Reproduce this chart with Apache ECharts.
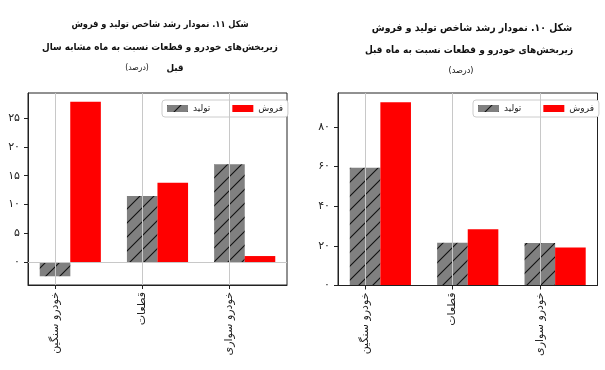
<!DOCTYPE html>
<html>
<head>
<meta charset="utf-8">
<script src="https://cdn.jsdelivr.net/npm/echarts@6/dist/echarts.min.js"></script>
<style>
html,body{margin:0;padding:0;background:#fff;}
#c{width:605px;height:370px;}
</style>
</head>
<body>
<div id="c" dir="rtl"></div>
<script>
// ---- data ----
var categories = ['خودرو سنگین', 'قطعات', 'خودرو سواری'];
var seriesNames = ['تولید', 'فروش'];
// Figure 11: growth vs same month last year (%)
var yoyProduction = [-2.4, 11.5, 17.0];
var yoySales = [27.8, 13.8, 1.1];
// Figure 10: growth vs previous month (%)
var momProduction = [59.4, 21.5, 21.4];
var momSales = [92.4, 28.3, 19.1];
var yoyTicks = [0, 5, 10, 15, 20, 25];
var momTicks = [0, 20, 40, 60, 80];
var catTicks = [0, 1, 2];

var BAR_W = 0.35;

// ---- helpers ----
function fa(n) {
  return String(n).replace(/[0-9]/g, function (d) { return '۰۱۲۳۴۵۶۷۸۹'[+d]; });
}
function makeHatch() {
  var s = 14;
  var cv = document.createElement('canvas');
  cv.width = s; cv.height = s;
  var g = cv.getContext('2d');
  g.fillStyle = '#808080';
  g.fillRect(0, 0, s, s);
  g.strokeStyle = '#111';
  g.lineWidth = 1.1;
  g.beginPath();
  g.moveTo(-2, s + 2); g.lineTo(s + 2, -2);
  g.moveTo(-2, 2); g.lineTo(2, -2);
  g.moveTo(s - 2, s + 2); g.lineTo(s + 2, s - 2);
  g.stroke();
  return cv;
}
var hatch = { image: makeHatch(), repeat: 'repeat' };

function yRange(a, b, stickyZero) {
  var lo = Math.min(0, Math.min.apply(null, a.concat(b)));
  var hi = Math.max(0, Math.max.apply(null, a.concat(b)));
  var m = (hi - lo) * 0.05;
  return [stickyZero && lo === 0 ? 0 : lo - m, hi + m];
}
var xLo = -BAR_W / 2, xHi = (categories.length - 1) + BAR_W + BAR_W / 2;
var xm = (xHi - xLo) * 0.05;
var xMin = xLo - xm, xMax = xHi + xm;

var yoyR = yRange(yoyProduction, yoySales, true);
var momR = yRange(momProduction, momSales, true);

var font = 'DejaVu Sans';
var titleFont = '"DejaVu Sans Condensed", "DejaVu Sans"';

function xAxisCfg(gi) {
  return {
    type: 'value', gridIndex: gi, min: xMin, max: xMax, z: 5,
    axisLine: { show: true, onZero: false, lineStyle: { color: '#222', width: 1 } },
    axisTick: { show: true, customValues: catTicks, length: 4, lineStyle: { color: '#222' } },
    axisLabel: {
      customValues: catTicks, rotate: 90, margin: 7,
      fontFamily: font, fontSize: 11, color: '#222',
      formatter: function (v) { return categories[Math.round(v)]; }
    },
    splitLine: { show: true, lineStyle: { color: '#c8c8c8', width: 1 } }
  };
}
function yAxisCfg(gi, r, ticks) {
  return {
    type: 'value', gridIndex: gi, min: r[0], max: r[1],
    axisLine: { show: true, onZero: false, lineStyle: { color: '#222', width: 1 } },
    axisTick: { show: true, customValues: ticks, length: 4, lineStyle: { color: '#222' } },
    axisLabel: {
      customValues: ticks, margin: 8, fontFamily: font, fontSize: 11, color: '#222',
      formatter: function (v) { return fa(v); }
    },
    splitLine: { show: false }
  };
}
function pairs(vals, off) {
  return vals.map(function (v, i) { return [i + off, v]; });
}
function barSeries(name, gi, vals, off, color, extra) {
  var s = {
    name: name, type: 'bar', xAxisIndex: gi, yAxisIndex: gi,
    data: pairs(vals, off), barWidth: 30.6, barGap: '-100%',
    itemStyle: { color: color }, emphasis: { disabled: true }
  };
  if (extra) for (var k in extra) s[k] = extra[k];
  return s;
}

var legendBase = {
  data: seriesNames, orient: 'horizontal', top: 100,
  itemWidth: 21, itemHeight: 7, itemGap: 22,
  padding: [4, 5], borderColor: '#cccccc', borderWidth: 1, borderRadius: 3,
  backgroundColor: '#ffffff', icon: 'rect',
  textStyle: { fontFamily: font, fontSize: 9, color: '#222' }
};

function txt(x, y, t, size, bold) {
  return {
    type: 'text', x: x, y: y, silent: true,
    style: { text: t, fill: '#111', font: (bold ? 'bold ' : '') + size + 'px ' + titleFont, align: 'center', verticalAlign: 'middle' }
  };
}

var chart = echarts.init(document.getElementById('c'), null, { renderer: 'canvas' });
chart.setOption({
  animation: false,
  backgroundColor: '#fff',
  grid: [
    { left: 28, top: 93, width: 259, height: 192, show: true, borderColor: '#222', borderWidth: 1, backgroundColor: 'transparent' },
    { left: 338, top: 93, width: 259.5, height: 192.5, show: true, borderColor: '#222', borderWidth: 1, backgroundColor: 'transparent' }
  ],
  xAxis: [xAxisCfg(0), xAxisCfg(1)],
  yAxis: [yAxisCfg(0, yoyR, yoyTicks), yAxisCfg(1, momR, momTicks)],
  legend: [
    Object.assign({}, legendBase, { left: 162 }),
    Object.assign({}, legendBase, { left: 473 })
  ],
  series: [
    barSeries(seriesNames[0], 0, yoyProduction, 0, hatch, {
      markLine: { silent: true, symbol: 'none', label: { show: false }, lineStyle: { color: '#c8c8c8', type: 'solid', width: 1 }, data: [{ yAxis: 0 }] }
    }),
    barSeries(seriesNames[1], 0, yoySales, BAR_W, '#ff0000'),
    barSeries(seriesNames[0], 1, momProduction, 0, hatch),
    barSeries(seriesNames[1], 1, momSales, BAR_W, '#ff0000')
  ],
  graphic: [
    txt(160, 25, 'شکل ۱۱. نمودار رشد شاخص تولید و فروش', 9.2, true),
    txt(160, 47, 'زیربخش‌های خودرو و قطعات نسبت به ماه مشابه سال', 9.8, true),
    txt(175, 68, 'قبل', 9.8, true),
    txt(137, 68, '(درصد)', 8.5, false),
    txt(472, 28, 'شکل ۱۰. نمودار رشد شاخص تولید و فروش', 10.4, true),
    txt(469, 50, 'زیربخش‌های خودرو و قطعات نسبت به ماه قبل', 10, true),
    txt(461, 71, '(درصد)', 9, false)
  ]
});
</script>
</body>
</html>
